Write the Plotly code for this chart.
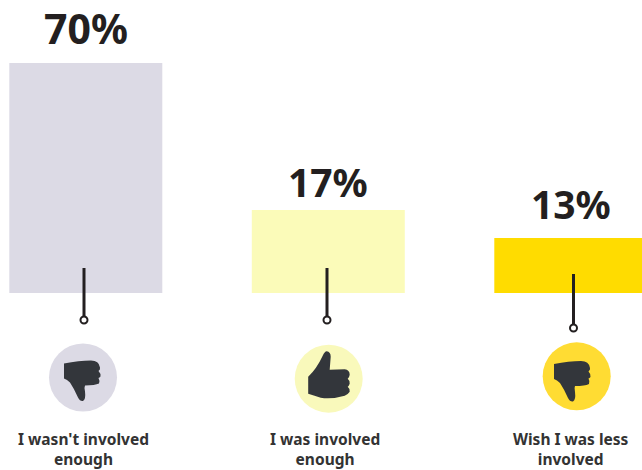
import math
import plotly.graph_objects as go

# Survey results
categories = ["I wasn't involved enough", "I was involved enough", "Wish I was less involved"]
label_lines = [["I wasn't involved", "enough"], ["I was involved", "enough"], ["Wish I was less", "involved"]]
values = [70, 17, 13]
bar_colors = ["#dcdae5", "#fbfbb9", "#ffdc00"]
badge_colors = ["#dcdae5", "#f9f9bb", "#ffdc33"]
icons = ["down", "up", "down"]

W, H = 642, 470
INK = "#231f20"
ICON = "#33363b"
FONT = "Noto Sans"


def px(x):
    return x / W


def py(y):
    return 1 - y / H


def path(points):
    """Closed SVG path from pixel-space commands, converted to paper fractions."""
    out = []
    for cmd, *pts in points:
        coords = " ".join(f"{px(x):.5f},{py(y):.5f}" for x, y in pts)
        out.append(f"{cmd}{coords}")
    return " ".join(out) + " Z"


# Outlines are relative to the badge centre, in pixels
THUMB_UP = [
    ("M", (-20.5, -2)), ("Q", (-12, -10), (-6, -23)), ("Q", (-4, -27.5), (-2, -27.5)),
    ("Q", (2, -27), (2, -22)), ("L", (1, -9)), ("L", (16, -9.5)), ("Q", (21, -9), (21, -4)),
    ("Q", (20.5, -1), (19, 0)), ("Q", (21.5, 2), (21, 5)), ("Q", (20, 7.5), (19, 8)),
    ("Q", (21.5, 10), (21, 13)), ("Q", (19, 16), (16, 17)), ("Q", (2, 21), (-8, 19)),
    ("Q", (-14, 17), (-20.5, 15)),
]
THUMB_DOWN = [
    ("M", (-19, -14)), ("Q", (-4, -17), (8, -17)), ("Q", (16, -17), (17, -10)),
    ("Q", (17.5, -8), (15.5, -6.5)), ("Q", (18, -4), (17.5, -1)), ("Q", (16.5, 0), (15.5, 0.5)),
    ("Q", (17, 3), (16, 6)), ("Q", (12, 8), (2, 8)), ("Q", (1, 10), (2, 14)),
    ("Q", (3, 22), (0, 23.5)), ("Q", (-3, 24), (-5, 20)), ("Q", (-9, 11), (-13, 5)),
    ("Q", (-16, 2), (-19, 1)),
]

stems = [(84, 268, 320), (327, 268, 320), (573.5, 274, 328)]
badges = [(83, 377.5), (328.7, 378.7), (576.7, 376.3)]
icon_offsets = [(0, 0), (0, 0), (-3.7, 1.7)]
label_x = [84, 325, 571]
value_sizes = [41, 39, 39]
value_gaps = [5, 0, 6]

# One category slot spans 242.5 px, with the first bar centred at x = 85.8 px
SLOT = 242.5
x_range = [-85.8 / SLOT, (W - 85.8) / SLOT]

fig = go.Figure(
    go.Bar(
        x=[0, 1, 2],
        y=values,
        width=153 / SLOT,
        marker=dict(color=bar_colors, line=dict(width=0)),
        hovertext=categories,
        hoverinfo="text+y",
    )
)

shapes = []
annotations = []

for i, value in enumerate(values):
    annotations.append(dict(
        x=i, y=math.log10(value), xref="x", yref="y", text=f"<b>{value}%</b>",
        showarrow=False, xanchor="center", yanchor="bottom", yshift=value_gaps[i],
        font=dict(family=FONT, size=value_sizes[i], color=INK),
    ))

    x, y0, y1 = stems[i]
    shapes.append(dict(type="line", xref="paper", yref="paper", x0=px(x), x1=px(x), y0=py(y0), y1=py(y1),
                       line=dict(color=INK, width=3)))
    r = 3.5
    shapes.append(dict(type="circle", xref="paper", yref="paper", x0=px(x - r), x1=px(x + r),
                       y0=py(y1 + r), y1=py(y1 - r), fillcolor="white", line=dict(color=INK, width=2)))

    cx, cy = badges[i]
    shapes.append(dict(type="circle", xref="paper", yref="paper", x0=px(cx - 34), x1=px(cx + 34),
                       y0=py(cy + 34), y1=py(cy - 34), fillcolor=badge_colors[i], line=dict(width=0)))

    outline = THUMB_UP if icons[i] == "up" else THUMB_DOWN
    dx, dy = icon_offsets[i]
    placed = [(c, *[(a + cx + dx, b + cy + dy) for a, b in pts]) for c, *pts in outline]
    shapes.append(dict(type="path", xref="paper", yref="paper", path=path(placed),
                       fillcolor=ICON, line=dict(width=0)))

    # Both lines of a caption share one text element
    annotations.append(dict(
        x=px(label_x[i]), y=py(449), xref="paper", yref="paper",
        text="<br>".join(f"<b>{line}</b>" for line in label_lines[i]),
        showarrow=False, xanchor="center", yanchor="middle", align="center",
        font=dict(family=FONT, size=15.5, color="#333333"),
    ))

fig.update_layout(
    width=W, height=H,
    margin=dict(l=0, r=0, t=0, b=0),
    paper_bgcolor="white", plot_bgcolor="white",
    showlegend=False,
    shapes=shapes,
    annotations=annotations,
    xaxis=dict(range=x_range, visible=False, fixedrange=True),
    yaxis=dict(type="log", range=[0.8843, 2.1077], domain=[(H - 293) / H, 1], visible=False, fixedrange=True),
)

fig.write_html("out.html", config=dict(displayModeBar=False))
